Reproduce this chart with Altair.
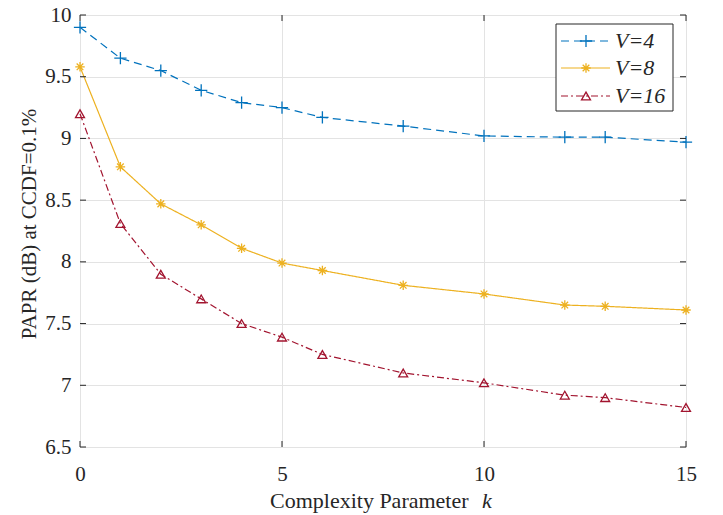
import altair as alt
import pandas as pd

k = [0, 1, 2, 3, 4, 5, 6, 8, 10, 12, 13, 15]
v4 = [9.90, 9.65, 9.55, 9.39, 9.29, 9.25, 9.17, 9.10, 9.02, 9.01, 9.01, 8.97]
v8 = [9.58, 8.77, 8.47, 8.30, 8.11, 7.99, 7.93, 7.81, 7.74, 7.65, 7.64, 7.61]
v16 = [9.20, 8.31, 7.90, 7.70, 7.50, 7.39, 7.25, 7.10, 7.02, 6.92, 6.90, 6.82]
series_names = ["V=4", "V=8", "V=16"]
x_ticks = [0, 5, 10, 15]
y_ticks = [6.5, 7, 7.5, 8, 8.5, 9, 9.5, 10]

W, H = 606, 432
FONT = "Times New Roman, Liberation Serif, serif"
colors = ["#0072BD", "#EDB120", "#A2142F"]
dashes = [[8, 5], [1, 0], [7, 3, 2, 3]]
plus = "M-1,0L1,0M0,-1L0,1"
star = "M-1,0L1,0M0,-1L0,1M-0.7,-0.7L0.7,0.7M-0.7,0.7L0.7,-0.7"
shapes = [plus, star, "triangle-up"]
sizes = [150, 90, 80]

xs = alt.Scale(domain=[0, 15], nice=False)
ys = alt.Scale(domain=[6.5, 10], nice=False)

xaxis = alt.Axis(values=x_ticks, grid=True, tickSize=0, domain=False, labelPadding=16, title=None,
                 labelFont=FONT, labelFontSize=21, labelColor="#262626", labelFlush=False)
yaxis = alt.Axis(values=y_ticks, grid=True, tickSize=0, domain=False, labelPadding=9,
                 title=None, labelExpr="format(datum.value, '~g')", labelFlush=False,
                 labelFont=FONT, labelFontSize=21, labelColor="#262626")

layers = []
base = alt.Chart(pd.DataFrame({"k": x_ticks[:1], "y": y_ticks[:1]})).mark_point(opacity=0).encode(
    x=alt.X("k:Q", scale=xs, axis=xaxis), y=alt.Y("y:Q", scale=ys, axis=yaxis))
layers.append(base)

for name, vals, c, d, s, sz in zip(series_names, [v4, v8, v16], colors, dashes, shapes, sizes):
    df = pd.DataFrame({"k": k, "y": vals})
    line = alt.Chart(df).mark_line(color=c, strokeDash=d, strokeWidth=1.2).encode(
        x=alt.X("k:Q", scale=xs), y=alt.Y("y:Q", scale=ys))
    pts = alt.Chart(df).mark_point(shape=s, size=sz, color=c, filled=False, strokeWidth=1.3, opacity=1).encode(
        x=alt.X("k:Q", scale=xs), y=alt.Y("y:Q", scale=ys))
    layers += [line, pts]

# inward ticks
xt = pd.DataFrame({"k": x_ticks})
yt = pd.DataFrame({"y": y_ticks})
tc = "#262626"
layers.append(alt.Chart(xt).mark_rule(color=tc).encode(x=alt.X("k:Q", scale=xs), y=alt.value(H), y2=alt.value(H - 6)))
layers.append(alt.Chart(xt).mark_rule(color=tc).encode(x=alt.X("k:Q", scale=xs), y=alt.value(0), y2=alt.value(6)))
layers.append(alt.Chart(yt).mark_rule(color=tc).encode(y=alt.Y("y:Q", scale=ys), x=alt.value(0), x2=alt.value(6)))
layers.append(alt.Chart(yt).mark_rule(color=tc).encode(y=alt.Y("y:Q", scale=ys), x=alt.value(W), x2=alt.value(W - 6)))

# axis titles
one = pd.DataFrame({"a": [0]})
layers.append(alt.Chart(one).mark_text(text="Complexity Parameter ", font=FONT, fontSize=22, color="#262626",
                                       align="left", baseline="alphabetic").encode(x=alt.value(190), y=alt.value(493)))
layers.append(alt.Chart(one).mark_text(text="k", font=FONT, fontSize=22, fontStyle="italic", color="#262626",
                                       align="left", baseline="alphabetic").encode(x=alt.value(402), y=alt.value(493)))
layers.append(alt.Chart(one).mark_text(text="PAPR (dB) at CCDF=0.1%", font=FONT, fontSize=21, color="#262626",
                                       angle=270, align="center", baseline="middle").encode(x=alt.value(-50), y=alt.value(209)))

# legend
layers.append(alt.Chart(one).mark_rect(fill="white", stroke="#262626", strokeWidth=1).encode(
    x=alt.value(476), x2=alt.value(593), y=alt.value(9), y2=alt.value(96)))
ly = [26, 53, 81]
for name, c, d, s, sz, yy in zip(series_names, colors, dashes, shapes, sizes, ly):
    layers.append(alt.Chart(one).mark_rule(color=c, strokeDash=d, strokeWidth=1.2).encode(
        x=alt.value(481), x2=alt.value(530), y=alt.value(yy)))
    layers.append(alt.Chart(one).mark_point(shape=s, size=sz, color=c, filled=False, strokeWidth=1.3, opacity=1).encode(
        x=alt.value(506), y=alt.value(yy)))
    layers.append(alt.Chart(one).mark_text(text=name, font=FONT, fontSize=22, fontStyle="italic", color="#262626",
                                           align="left", baseline="middle").encode(x=alt.value(535), y=alt.value(yy)))

chart = alt.layer(*layers).properties(
    width=W, height=H,
    autosize=alt.AutoSizeParams(type="none"),
    padding={"left": 72, "top": 7, "right": 20, "bottom": 66},
).configure_view(stroke="#262626", strokeWidth=1).configure(background="white").configure_axis(
    labelFont=FONT, labelFontSize=21, labelColor="#262626", gridColor="#e3e3e3", gridWidth=1
)

chart.save("out.html", embed_options={"renderer": "svg", "actions": False})
